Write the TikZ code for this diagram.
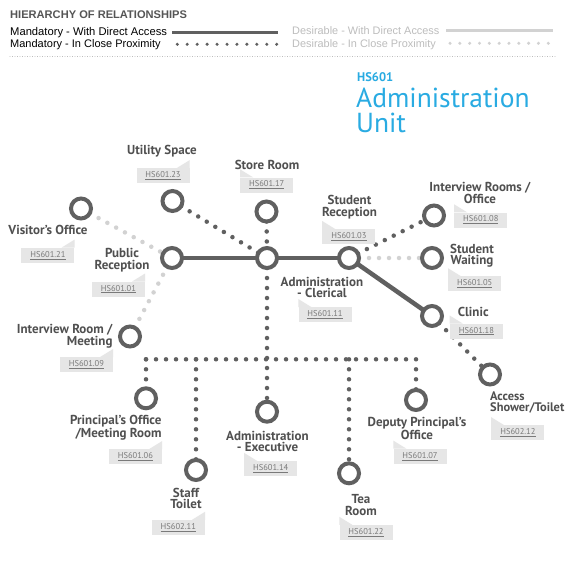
\documentclass[tikz,border=0pt]{standalone}
\usepackage{fontspec}
\setmainfont{Liberation Sans}
\newfontfamily\dinfont{PT Sans}
\pgfdeclarelayer{bg}
\pgfsetlayers{bg,main}
\definecolor{dk}{HTML}{606060}
\definecolor{lt}{HTML}{D2D2D2}
\definecolor{tagc}{HTML}{E6E6E6}
\definecolor{tagtext}{HTML}{7A7A7A}
\definecolor{lbl}{HTML}{505050}
\definecolor{hdr}{HTML}{555555}
\definecolor{desc}{HTML}{BDBDBD}
\definecolor{blu}{HTML}{29ABE2}
\tikzset{
 room/.style={circle, draw=dk, line width=4pt, fill=white, minimum size=20pt, inner sep=0pt},
 mandline/.style={draw=dk, line width=4.5pt},
 manddots/.style={draw=dk, line width=4.5pt, line cap=round, dash pattern=on 0pt off 10pt},
 desdots/.style={draw=lt, line width=4.5pt, line cap=round, dash pattern=on 0pt off 10pt},
 lab/.style={font=\dinfont\bfseries\fontsize{13}{11.8}\selectfont, text=lbl, inner sep=0pt},
 tagbox/.style={fill=tagc, minimum width=53pt, minimum height=15pt, inner sep=0pt, font=\dinfont\fontsize{8.5}{10}\selectfont, text=tagtext},
 legtext/.style={font=\fontsize{10.9}{12}\selectfont, inner sep=0pt, anchor=base west},
}
\newcommand{\tagright}[3]{\node[tagbox] (#1) at (#2) {\underline{#3}}; \fill[tagc] (#1.north east) -- ++(0,-8) -- ++(-13,8) -- cycle;}
\newcommand{\tagleft}[3]{\node[tagbox] (#1) at (#2) {\underline{#3}}; \fill[tagc] (#1.north west) -- ++(0,-8) -- ++(13,8) -- cycle;}
\begin{document}
\begin{tikzpicture}[x=1pt,y=-1pt]
\useasboundingbox (0,0) rectangle (565,572);
\begin{pgfonlayer}{bg}
\fill[white] (0,0) rectangle (565,572);
\end{pgfonlayer}
% legend
\node[font=\bfseries\fontsize{11.1}{12}\selectfont, text=hdr, inner sep=0pt, anchor=base west] (hdrtext) at (10,18.3) {HIERARCHY OF RELATIONSHIPS};
\node[legtext, font=\fontsize{11.2}{12}\selectfont] (m1) at (10,36) {Mandatory - With Direct Access};
\node[legtext, font=\fontsize{11}{12}\selectfont] (m2) at (10,47.6) {Mandatory - In Close Proximity};
\node[legtext, text=desc] (d1) at (292,34.3) {Desirable - With Direct Access};
\node[legtext, text=desc] (d2) at (292,47.4) {Desirable - In Close Proximity};
\draw[dk, line width=3.2pt] (172.3,32.3) -- (278.3,32.3);
\draw[dk, line width=3.4pt, line cap=round, dash pattern=on 0pt off 9.94pt] (177.3,44.3) -- (276.8,44.3);
\draw[lt, line width=3.2pt] (446,30.7) -- (553.3,30.7);
\draw[lt, line width=3.4pt, line cap=round, dash pattern=on 0pt off 9.83pt] (450,43.3) -- (548.4,43.3);
\draw[black!40, line width=0.7pt, line cap=round, dash pattern=on 0pt off 2.5pt] (10,56.5) -- (555,56.5);
% title
\node[anchor=base west, font=\dinfont\bfseries\fontsize{12.5}{14}\selectfont, text=blu, inner sep=0pt] (code) at (357,82) {HS601};
\node[anchor=base west, font=\dinfont\fontsize{27.5}{25}\selectfont, text=blu, inner sep=0pt] (title1) at (356,108) {Administration};
\node[anchor=base west, font=\dinfont\fontsize{27.5}{25}\selectfont, text=blu, inner sep=0pt] (title2) at (356,133) {Unit};
% rooms
\node[room] (cvis) at (81,208.5) {};
\node[room] (cutl) at (172.5,201) {};
\node[room] (csto) at (266.5,211.5) {};
\node[room] (cpub) at (172,258) {};
\node[room] (cclr) at (267,258) {};
\node[room] (csrec) at (349,258) {};
\node[room] (civr) at (434,215.5) {};
\node[room] (cswt) at (432,258) {};
\node[room] (ccln) at (432,316) {};
\node[room] (cacc) at (490,374.5) {};
\node[room] (cimt) at (130,336.5) {};
\node[room] (cprc) at (146,398.3) {};
\node[room] (cstf) at (196,470) {};
\node[room] (cexe) at (267,411.7) {};
\node[room] (ctea) at (349,473.3) {};
\node[room] (cdep) at (416,400) {};
\coordinate (bP) at (146,359.3);
\coordinate (bS) at (196,359.3);
\coordinate (bT) at (349,359.3);
\coordinate (bD) at (416,359.3);
\begin{pgfonlayer}{bg}
\draw[mandline] (cpub.center) -- (cclr.center);
\draw[mandline] (cclr.center) -- (csrec.center);
\draw[mandline] (csrec.center) -- (ccln.center);
\draw[manddots] (cutl.center) -- (cclr.center);
\draw[manddots] (csto.center) -- (cclr.center);
\draw[desdots] (cvis.center) -- (cpub.center);
\draw[desdots] (cimt.center) -- (cpub.center);
\draw[manddots] (csrec.center) -- (civr.center);
\draw[desdots] (csrec.center) -- (cswt.center);
\draw[manddots] (ccln.center) -- (cacc.center);
\draw[manddots] (cclr.center) -- (cexe.center);
\draw[manddots] (bP) -- (bD);
\draw[manddots] (bP) -- (cprc.center);
\draw[manddots] (bS) -- (cstf.center);
\draw[manddots] (bT) -- (ctea.center);
\draw[manddots] (bD) -- (cdep.center);
\end{pgfonlayer}
% labels
\node[lab] (lutl) at (162,151.5) {Utility Space};
\node[lab] (lsto) at (267,165) {Store Room};
\node[lab] (lvis) at (48,230) {Visitor’s Office};
\node[lab, align=center] (lpub) at (122,260.3) {Public\\Reception};
\node[lab, align=right, anchor=east] (limt) at (112.7,336.3) {Interview Room /\\Meeting};
\node[lab, align=center] (lsrec) at (349.5,207) {Student\\Reception};
\node[lab, align=center] (lclr) at (322,287.5) {Administration\\- Clerical};
\node[lab, align=center] (livr) at (480,192.7) {Interview Rooms /\\Office};
\node[lab, align=center] (lswt) at (472,255.7) {Student\\Waiting};
\node[lab] (lcln) at (473.3,311.7) {Clinic};
\node[lab, align=left, anchor=west, font=\dinfont\bfseries\fontsize{12.4}{11.8}\selectfont] (lacc) at (490,402.5) {Access\\Shower/Toilet};
\node[lab, align=right, anchor=east] (lprc) at (161.7,427.5) {Principal’s Office\\/Meeting Room};
\node[lab, align=center] (lstf) at (186,498.5) {Staff\\Toilet};
\node[lab, align=center] (lexe) at (267.5,441.5) {Administration\\- Executive};
\node[lab, align=center] (ltea) at (361,505) {Tea\\Room};
\node[lab, align=center] (ldep) at (417,428.3) {Deputy Principal’s\\Office};
% tags
\tagright{t23}{163,175.8}{HS601.23}
\tagleft{t17}{266.7,185}{HS601.17}
\tagright{t21}{47.9,255.3}{HS601.21}
\tagright{t01}{118.4,289.2}{HS601.01}
\tagright{t09}{86.4,364.7}{HS601.09}
\tagleft{t08}{480.8,220}{HS601.08}
\tagleft{t03}{348.9,236.7}{HS601.03}
\tagleft{t05}{474.7,283.9}{HS601.05}
\tagleft{t11}{325,314.7}{HS601.11}
\tagleft{t18}{476.4,331.2}{HS601.18}
\tagleft{t12}{517.9,432.9}{HS602.12}
\tagleft{t07}{420,456.3}{HS601.07}
\tagright{t06}{135.4,456.8}{HS601.06}
\tagright{t11b}{178.3,527.5}{HS602.11}
\tagleft{t14}{270.7,468.5}{HS601.14}
\tagleft{t22}{366,532.5}{HS601.22}
\end{tikzpicture}
\end{document}
